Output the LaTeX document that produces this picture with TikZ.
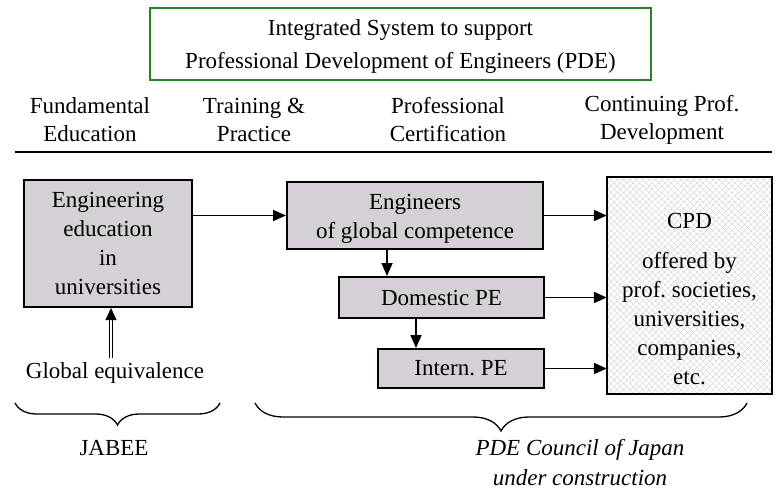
\documentclass[tikz,border=0pt]{standalone}
\usepackage{fontspec}
\setmainfont{Liberation Serif}
\usetikzlibrary{arrows.meta,patterns.meta,decorations.pathreplacing}
\definecolor{boxgray}{RGB}{212,208,214}
\definecolor{titlegreen}{RGB}{40,128,40}
\definecolor{hatchgray}{RGB}{205,205,205}
\frenchspacing
\begin{document}
\begin{tikzpicture}[x=1pt,y=-1pt,
  txt/.style={inner sep=0pt, align=center, font=\fontsize{23}{28}\selectfont},
  stage/.style={draw, line width=2pt, fill=boxgray, align=center, inner sep=0pt, font=\fontsize{23}{29}\selectfont},
  arr/.style={line width=1.8pt, -{Triangle[length=13pt,width=11pt]}},
  brc/.style={decorate, decoration={brace, mirror, amplitude=#1}, line width=1.3pt}]
\useasboundingbox (0,0) rectangle (781,498);
% title
\node[draw=titlegreen, line width=1.8pt, minimum width=501pt, minimum height=72pt, inner sep=0pt] (title) at (400.5,44) {};
\node[txt, font=\fontsize{23}{33}\selectfont] (titlet) at (400.5,47) {Integrated System to support\\Professional Development of Engineers (PDE)};
% phases
\node[txt] (fund) at (90,120) {Fundamental\\Education};
\node[txt] (train) at (254,120) {Training \&\\Practice};
\node[txt] (cert) at (448,120) {Professional\\Certification};
\node[txt] (cont) at (662,120) {Continuing Prof.\\Development};
\draw[line width=2pt] (15,152) -- (772,152);
% boxes
\node[stage, minimum width=168pt, minimum height=127pt] (edu) at (108,243.5) {Engineering\\education\\in\\universities};
\node[stage, minimum width=256pt, minimum height=67pt] (eng) at (415,215.5) {};
\node[txt, font=\fontsize{23}{29}\selectfont] (engt) at (415,219) {Engineers\\of global competence};
\node[stage, minimum width=205pt, minimum height=41pt] (dom) at (441.5,297.5) {Domestic PE};
\node[stage, minimum width=166pt, minimum height=39pt] (intl) at (461,368.5) {Intern. PE};
\node[minimum width=165pt, minimum height=217pt,
  pattern={Lines[angle=45,distance=4.5pt,line width=0.35pt]}, pattern color=hatchgray,
  postaction={pattern={Lines[angle=-45,distance=4.5pt,line width=0.35pt]}, pattern color=hatchgray},
  postaction={draw, line width=2pt}] (cpd) at (689.5,285.5) {};
\node[txt, font=\fontsize{23}{29}\selectfont] (cpdt) at (689.5,221) {CPD};
\node[txt, font=\fontsize{23}{29}\selectfont] (offer) at (689.5,319) {offered by\\prof. societies,\\universities,\\companies,\\etc.};
\node[txt] (geq) at (115,373) {Global equivalence};
\coordinate (geqtop) at (111,358);
% arrows
\draw[arr] (edu.east |- eng.west) -- (eng.west);
\draw[arr] (eng.east) -- (eng.east -| cpd.west);
\draw[arr] (dom.east) -- (dom.east -| cpd.west);
\draw[arr] (intl.east) -- (intl.east -| cpd.west);
\draw[arr] (eng.south -| 387,0) -- (dom.north -| 387,0);
\draw[arr] (dom.south -| 416,0) -- (intl.north -| 416,0);
\draw[double, double distance=2pt, line width=0.8pt, -{Triangle[length=12pt,width=11pt]}] (geqtop) -- (edu.south -| geqtop);
% braces
\draw[brc=22pt] (15,403) -- (220,403);
\draw[brc=28pt] (255,403) -- (747,403);
\node[txt] (jabee) at (114,448) {JABEE};
\node[txt, font=\fontsize{23}{30}\selectfont\itshape] (pdec) at (580,463) {PDE Council of Japan\\under construction};
\end{tikzpicture}
\end{document}
